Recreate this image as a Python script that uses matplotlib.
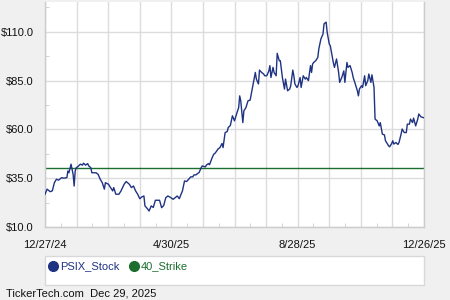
import numpy as np
import matplotlib
matplotlib.use("Agg")
import matplotlib.pyplot as plt
from matplotlib.lines import Line2D
from matplotlib.patches import Rectangle

plt.rcParams['font.family'] = ['Liberation Sans', 'DejaVu Sans']

# days since 12/27/24 and closing price
days = [0, 2, 5, 7, 9, 11, 13, 16, 18, 21, 22, 23, 25, 27, 28, 29, 30, 31, 34, 36,
        37, 39, 41, 42, 44, 45, 49, 51, 53, 55, 57, 58, 61, 62, 65, 66, 68, 71, 73, 76,
        78, 81, 83, 85, 87, 89, 91, 93, 95, 96, 98, 100, 102, 104, 106, 108, 110, 112, 114, 116,
        118, 121, 123, 125, 127, 129, 130, 132, 134, 136, 138, 140, 142, 143, 145, 146, 148, 150, 151, 154,
        155, 157, 158, 160, 162, 163, 165, 166, 168, 170, 171, 173, 175, 176, 178, 180, 182, 184, 186, 187,
        188, 190, 191, 193, 195, 197, 199, 202, 203, 205, 206, 208, 210, 211, 213, 215, 216, 217, 219, 220,
        222, 223, 225, 226, 228, 230, 231, 233, 235, 236, 238, 239, 240, 242, 243, 245, 246, 248, 250, 251,
        253, 255, 256, 257, 258, 260, 262, 263, 265, 267, 268, 270, 271, 273, 274, 276, 277, 278, 280, 282,
        283, 285, 287, 288, 290, 291, 293, 295, 296, 298, 300, 301, 302, 304, 305, 307, 308, 310, 311, 313,
        314, 316, 317, 319, 321, 322, 324, 326, 327, 330, 331, 333, 334, 335, 337, 339, 340, 342, 343, 345,
        347, 348, 350, 351, 353, 354, 356, 358, 359, 361, 363, 364]
price = [26.8, 29.4, 28.1, 28.5, 32.7, 34.5, 34.0, 35.3, 35.0, 35.3, 38.7, 37.8, 42.2, 37.0, 31.0, 38.7, 40.4, 40.7, 42.2, 41.7,
         42.7, 41.7, 42.5, 41.3, 40.4, 37.8, 37.8, 37.0, 34.5, 32.7, 29.4, 32.7, 31.9, 31.0, 28.5, 30.2, 26.8, 26.8, 28.5, 31.9,
         33.3, 31.9, 30.2, 31.0, 28.5, 26.8, 24.5, 25.4, 25.9, 20.8, 19.6, 18.2, 20.8, 20.0, 23.7, 23.7, 23.7, 19.9, 21.0, 25.0,
         25.9, 25.0, 24.2, 25.0, 25.9, 24.5, 25.9, 28.5, 33.6, 33.3, 34.5, 35.7, 35.7, 36.7, 36.7, 37.2, 37.9, 40.4, 41.3, 40.8,
         41.7, 42.5, 41.9, 44.8, 47.3, 47.6, 49.0, 49.9, 50.7, 52.8, 50.7, 58.4, 58.9, 61.0, 62.0, 67.0, 64.4, 67.9, 71.2, 77.2,
         74.7, 63.5, 69.5, 71.2, 74.7, 75.0, 80.7, 89.2, 85.8, 83.3, 90.4, 89.2, 88.4, 87.5, 87.5, 90.0, 92.7, 86.6, 91.8, 89.2,
         87.5, 99.0, 95.2, 95.2, 86.6, 80.7, 85.8, 79.8, 80.7, 82.4, 90.4, 87.5, 83.3, 81.5, 82.4, 86.6, 81.5, 87.5, 85.8, 86.6,
         85.0, 92.7, 89.2, 93.5, 94.3, 95.2, 96.9, 101.3, 106.4, 108.9, 114.1, 115.0, 109.8, 103.8, 102.9, 96.9, 94.0, 91.8, 96.1, 89.2,
         84.1, 86.6, 90.0, 84.1, 94.3, 91.8, 92.7, 89.2, 86.6, 83.3, 79.8, 77.2, 80.7, 82.4, 81.5, 87.5, 82.4, 85.0, 88.4, 84.1,
         88.0, 81.5, 65.3, 64.4, 61.8, 63.5, 57.6, 57.2, 54.2, 51.6, 51.1, 52.8, 54.2, 52.5, 53.3, 52.3, 53.3, 57.6, 60.2, 58.4,
         58.4, 62.7, 62.7, 65.3, 63.5, 65.8, 61.8, 65.3, 67.9, 66.5, 66.1, 66.0]
strike = 40
date_labels = ['12/27/24', '4/30/25', '8/28/25', '12/26/25']
y_ticks = [10, 35, 60, 85, 110]

stock_color = '#1f3383'
strike_color = '#1b6e2e'
grid_color = '#dcdcdc'

fig = plt.figure(figsize=(4.5, 3), dpi=100, facecolor='#f0f0f0')
ax = fig.add_axes([45 / 450, 73 / 300, 379 / 450, 225 / 300])
ax.set_facecolor('white')

ax.plot(days, price, color=stock_color, lw=1.0, zorder=3)
ax.axhline(strike, color=strike_color, lw=1.0, zorder=2)

ax.set_xlim(0, 364)
ax.set_ylim(10, 125.3)

grid_x = np.linspace(0, 364, 13)
ax.set_xticks(grid_x)
ax.set_xticklabels([date_labels[i // 4] if i % 4 == 0 else '' for i in range(13)])
ax.set_xticks((grid_x[:-1] + grid_x[1:]) / 2, minor=True)
ax.set_yticks(y_ticks)
ax.set_yticklabels(['$%.1f' % v for v in y_ticks])
ax.set_yticks([v + 12.5 for v in y_ticks], minor=True)

ax.grid(True, which='major', color=grid_color, lw=1.0, zorder=0)
ax.tick_params(which='major', length=0, labelsize=8, colors='#111111')
ax.tick_params(axis='x', which='major', pad=9)
ax.tick_params(axis='y', which='major', pad=8)
ax.tick_params(which='minor', direction='in', length=3, color='#cccccc')
for s in ax.spines.values():
    s.set_color('#cccccc')
    s.set_linewidth(1.0)
ax.spines['top'].set_visible(False)

# legend box
fig.patches.append(Rectangle((45 / 450, 15 / 300), 379 / 450, 29 / 300, transform=fig.transFigure,
                             facecolor='white', edgecolor='#d8d8d8', lw=1.0))
handles = [Line2D([], [], ls='none', marker='o', ms=7, color=stock_color),
           Line2D([], [], ls='none', marker='o', ms=7, color=strike_color)]
fig.legend(handles, ['PSIX_Stock', '40_Strike'], loc='center left', bbox_to_anchor=(40 / 450, 33.5 / 300),
           ncol=2, frameon=False, fontsize=8, handlelength=0.6, handletextpad=0.3, columnspacing=1.0,
           labelcolor=[stock_color, strike_color])

fig.text(6 / 450, 6 / 300, 'TickerTech.com  Dec 29, 2025', fontsize=8, color='#111111', va='center')

fig.savefig('out.png', dpi=100, facecolor=fig.get_facecolor())
